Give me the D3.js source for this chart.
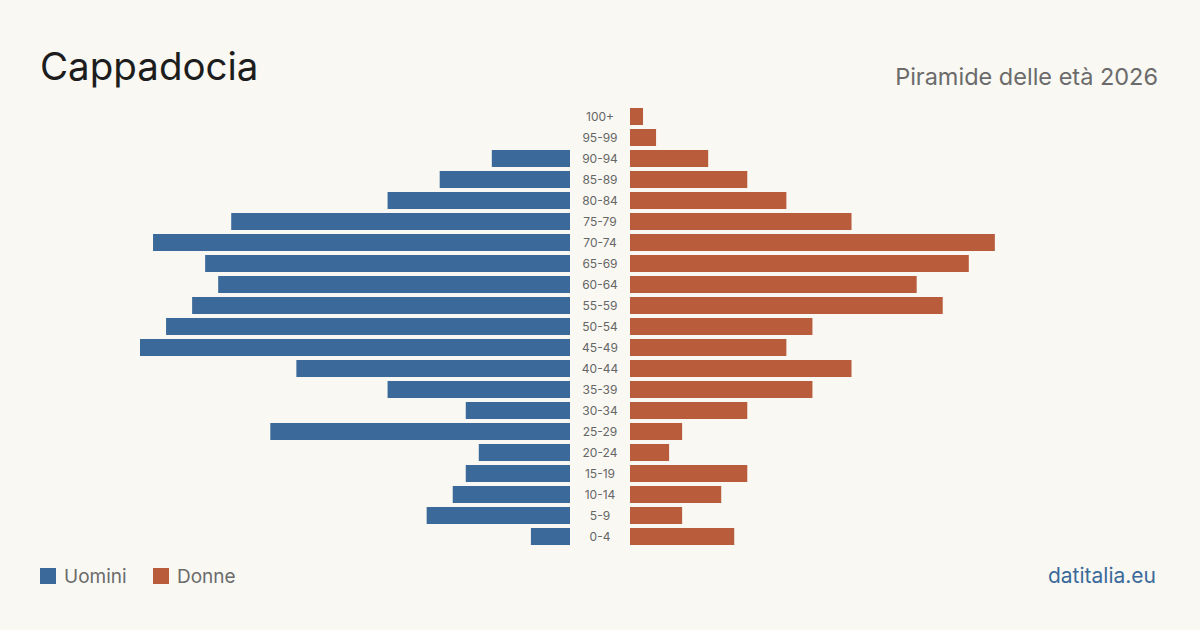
<!DOCTYPE html>
<html>
<head>
<meta charset="utf-8">
<script src="https://cdn.jsdelivr.net/npm/d3@7"></script>
<style>
  html, body { margin: 0; padding: 0; background: #f9f8f3; }
  svg { display: block; font-family: Inter, "Noto Sans", sans-serif; }
</style>
</head>
<body>
<div id="chart"></div>
<script>
var svgWidth = 1200;
var svgHeight = 630;

// Age groups, top to bottom
var ageGroups = ["100+", "95-99", "90-94", "85-89", "80-84", "75-79", "70-74", "65-69", "60-64", "55-59",
    "50-54", "45-49", "40-44", "35-39", "30-34", "25-29", "20-24", "15-19", "10-14", "5-9", "0-4"];
var uomini = [0, 0, 6, 10, 14, 26, 32, 28, 27, 29, 31, 33, 21, 14, 8, 23, 7, 8, 9, 11, 3];
var donne = [1, 2, 6, 9, 12, 17, 28, 26, 22, 24, 14, 12, 17, 14, 9, 4, 3, 9, 7, 4, 8];

var colMale = "#3b6a9a";
var colFemale = "#b95c3c";

var svg = d3.select("#chart").append("svg").attr("width", svgWidth).attr("height", svgHeight);

svg.append("rect").attr("width", svgWidth).attr("height", svgHeight).attr("fill", "#f9f8f3");

// Titles
svg.append("text").attr("x", 40).attr("y", 80).attr("font-size", 38.5).attr("fill", "#1d1d1d").text("Cappadocia");
svg.append("text").attr("x", 1158).attr("y", 85).attr("text-anchor", "end").attr("font-size", 23.5)
    .attr("fill", "#6b6b6b").text("Piramide delle età 2026");

// Scales
var yScale = d3.scaleBand().domain(ageGroups).range([106, 547]).paddingInner(0.19).paddingOuter(0.095);
var xScale = d3.scaleLinear().domain([0, 33]).range([0, 430]);

var centerLeft = 570;
var centerRight = 630;

// Male bars (left)
svg.append("g").selectAll("rect").data(ageGroups).enter().append("rect")
    .attr("x", (d, i) => centerLeft - xScale(uomini[i]))
    .attr("y", d => yScale(d))
    .attr("width", (d, i) => xScale(uomini[i]))
    .attr("height", yScale.bandwidth())
    .attr("fill", colMale);

// Female bars (right)
svg.append("g").selectAll("rect").data(ageGroups).enter().append("rect")
    .attr("x", centerRight)
    .attr("y", d => yScale(d))
    .attr("width", (d, i) => xScale(donne[i]))
    .attr("height", yScale.bandwidth())
    .attr("fill", colFemale);

// Age labels in the middle
svg.append("g").selectAll("text").data(ageGroups).enter().append("text")
    .attr("x", 600)
    .attr("y", d => yScale(d) + yScale.bandwidth() / 2)
    .attr("dy", "0.35em")
    .attr("text-anchor", "middle")
    .attr("font-size", 12)
    .attr("fill", "#666")
    .text(d => d);

// Legend
var legend = [{label: "Uomini", color: colMale, x: 40}, {label: "Donne", color: colFemale, x: 153}];
var lg = svg.append("g").selectAll("g").data(legend).enter().append("g");
lg.append("rect").attr("x", d => d.x).attr("y", 568).attr("width", 16).attr("height", 16).attr("fill", d => d.color);
lg.append("text").attr("x", d => d.x + 24).attr("y", 583).attr("font-size", 19).attr("fill", "#6b6b6b").text(d => d.label);

// Source
svg.append("text").attr("x", 1156).attr("y", 583).attr("text-anchor", "end").attr("font-size", 21)
    .attr("fill", "#3b6a9a").text("datitalia.eu");
</script>
</body>
</html>
